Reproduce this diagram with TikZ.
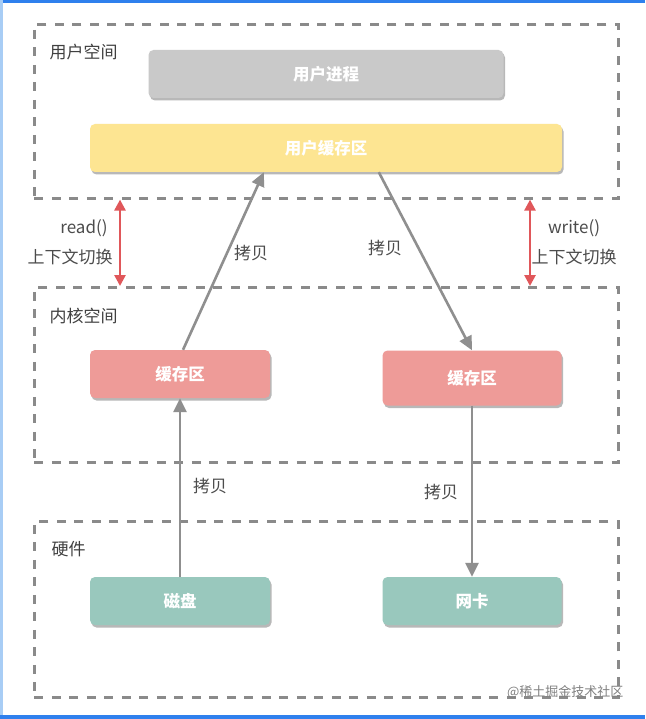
\documentclass[tikz,border=0pt]{standalone}
\usepackage{fontspec}
\setmainfont{Noto Sans CJK SC}
\usetikzlibrary{calc,shadows,arrows.meta}

\definecolor{dashgray}{HTML}{8A8A8A}
\definecolor{linkgray}{HTML}{8F8F8F}
\definecolor{procgray}{HTML}{C9C9C9}
\definecolor{bufyellow}{HTML}{FDE592}
\definecolor{bufpink}{HTML}{EE9B98}
\definecolor{hwteal}{HTML}{99C8BD}
\definecolor{switchred}{HTML}{E0575A}
\definecolor{edgeblue}{HTML}{2F80ED}
\definecolor{edgelight}{HTML}{A8CDF5}

\begin{document}
\begin{tikzpicture}[x=1pt,y=-1pt,
    region/.style={draw=dashgray,line width=2.6pt,dash pattern=on 9pt off 8.5pt,anchor=north west,minimum width=584pt,inner sep=0pt},
    area/.style={anchor=west,text=black!75,font=\fontsize{17}{19}\selectfont},
    block/.style={rounded corners=5pt,minimum height=48pt,text=white,font=\fontsize{16.5}{18}\selectfont\bfseries,drop shadow={shadow xshift=1.5pt,shadow yshift=-2.5pt,fill=black!28,opacity=1}},
    link/.style={-{Triangle[length=14pt,width=13pt]},draw=linkgray,line width=2.6pt},
    switch/.style={{Triangle[length=11pt,width=11pt]}-{Triangle[length=11pt,width=11pt]},draw=switchred,line width=2.6pt},
    note/.style={text=black!70,font=\fontsize{17}{19}\selectfont}]
  \useasboundingbox (0,0) rectangle (645,719);
  \fill[white] (0,0) rectangle (645,719);
  \fill[edgeblue] (0,0) rectangle (645,3);
  \fill[edgeblue] (0,715) rectangle (645,719);
  \fill[edgelight] (0,0) rectangle (2.5,715);

  % regions
  \node[region,minimum height=174pt] (userspace) at (33,23) {};
  \node[region,minimum height=175pt] (kernel) at (33,286) {};
  \node[region,minimum height=176pt] (hardware) at (33,520) {};
  \node[area] (userlabel) at (46,52) {用户空间};
  \node[area] (kernellabel) at (46,316) {内核空间};
  \node[area] (hwlabel) at (48,549) {硬件};

  % blocks
  \node[block,fill=procgray,minimum width=355pt] (process) at (326,74) {用户进程};
  \node[block,fill=bufyellow,minimum width=472pt] (userbuf) at (326,148) {用户缓存区};
  \node[block,fill=bufpink,minimum width=180pt] (kbufread) at (180,374) {缓存区};
  \node[block,fill=bufpink,minimum width=179pt,minimum height=55pt] (kbufwrite) at (472,378) {缓存区};
  \node[block,fill=hwteal,minimum width=180pt] (disk) at (180,601) {磁盘};
  \node[block,fill=hwteal,minimum width=179pt] (nic) at (472,601) {网卡};

  % copies
  \draw[link] (disk) -- (kbufread);
  \draw[link] ($(kbufread.north)+(3,0)$) -- ($(userbuf.south west)+(174,0)$);
  \draw[link] ($(userbuf.south west)+(289,0)$) -- (kbufwrite.north);
  \draw[link] (kbufwrite) -- (nic);
  \node[note] (copyup) at (251,253) {拷贝};
  \node[note] (copydown) at (385,248) {拷贝};
  \node[note] (copydisk) at (210,486) {拷贝};
  \node[note] (copynic) at (441,492) {拷贝};

  % context switches
  \draw[switch] ($(userspace.south west)+(87,0)$) -- ($(kernel.north west)+(87,0)$);
  \draw[switch] ($(userspace.south west)+(497,0)$) -- ($(kernel.north west)+(497,0)$);
  \node[note] (readcall) at (84,228) {read()};
  \node[note] (readswitch) at (70,257) {上下文切换};
  \node[note] (writecall) at (574,228) {write()};
  \node[note] (writeswitch) at (574,257) {上下文切换};

  \node[anchor=east,text=black!50,font=\fontsize{13}{15}\selectfont] (mark) at (627,692) {@稀土掘金技术社区};
\end{tikzpicture}
\end{document}
